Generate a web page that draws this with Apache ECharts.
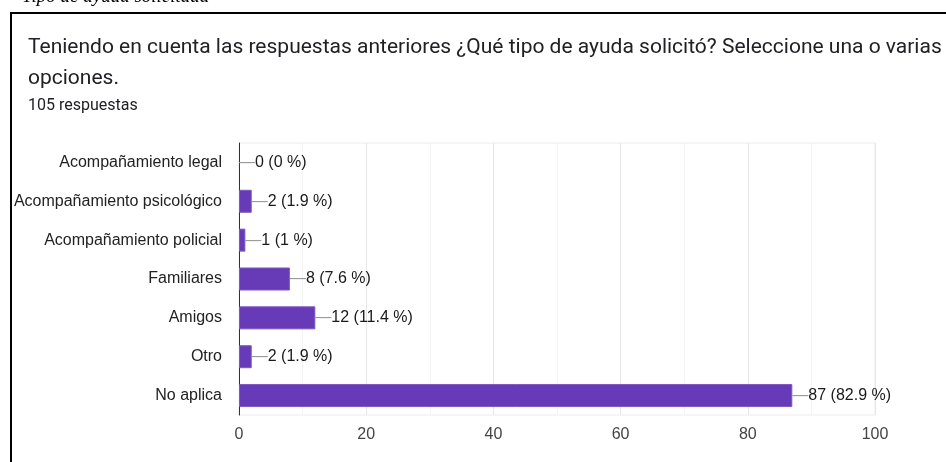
<!DOCTYPE html>
<html>
<head>
<meta charset="utf-8">
<script src="https://cdn.jsdelivr.net/npm/echarts@6/dist/echarts.min.js"></script>
<style>
  html, body { margin: 0; padding: 0; background: #fff; }
  #chart { width: 946px; height: 462px; }
</style>
</head>
<body>
<div id="chart"></div>
<script>
// datos
var categorias = ['Acompañamiento legal', 'Acompañamiento psicológico', 'Acompañamiento policial', 'Familiares', 'Amigos', 'Otro', 'No aplica']
var respuestas = [0, 2, 1, 8, 12, 2, 87]
var porcentajes = ['0', '1.9', '1', '7.6', '11.4', '1.9', '82.9']
var ticksX = [0, 20, 40, 60, 80, 100]

var fuente = '"Liberation Sans", Arial, sans-serif'
var chart = echarts.init(document.getElementById('chart'))

chart.setOption({
  animation: false,
  graphic: [
    // texto del documento cortado arriba
    {
      type: 'text', left: 22, top: -13,
      style: { text: 'Tipo de ayuda solicitada', font: 'italic 19px "Liberation Serif", serif', fill: '#000' }
    },
    // marco
    {
      type: 'rect', shape: { x: 11, y: 13, width: 1000, height: 500 },
      style: { fill: 'none', stroke: '#000', lineWidth: 2 }
    },
    {
      type: 'text', left: 28, top: 37,
      style: { text: 'Teniendo en cuenta las respuestas anteriores ¿Qué tipo de ayuda solicitó? Seleccione una o varias', font: '21px Roboto, sans-serif', fill: '#202124' }
    },
    {
      type: 'text', left: 28, top: 68,
      style: { text: 'opciones.', font: '21px Roboto, sans-serif', fill: '#202124' }
    },
    {
      type: 'text', left: 28, top: 98,
      style: { text: '105 respuestas', font: '16px Roboto, sans-serif', fill: '#202124' }
    }
  ],
  grid: {
    left: 239,
    right: 71,
    top: 143,
    bottom: 47,
    show: true,
    borderColor: '#ececec',
    borderWidth: 1
  },
  xAxis: {
    type: 'value',
    min: 0,
    max: 100,
    interval: 20,
    axisLine: { show: false },
    axisTick: { show: false },
    axisLabel: {
      color: '#444',
      fontSize: 16,
      fontFamily: fuente,
      margin: 12,
      formatter: function (v) { return ticksX.indexOf(v) >= 0 ? String(v) : '' }
    },
    splitLine: { lineStyle: { color: '#e6e6e6' } },
    minorTick: { show: false, splitNumber: 2 },
    minorSplitLine: { show: true, lineStyle: { color: '#f3f3f3' } }
  },
  yAxis: {
    type: 'category',
    data: categorias,
    inverse: true,
    axisLine: { lineStyle: { color: '#333', width: 1 } },
    axisTick: { show: false },
    axisLabel: {
      color: '#222',
      fontSize: 16,
      fontFamily: fuente,
      margin: 17
    }
  },
  series: [{
    type: 'bar',
    // la barra en cero no lleva borde
    data: respuestas.map(function (v) {
      return v === 0 ? { value: v, itemStyle: { borderWidth: 0 } } : v
    }),
    barWidth: 23,
    itemStyle: { color: '#673ab7', borderColor: '#7e57c2', borderWidth: 1 },
    label: {
      show: true,
      position: 'right',
      distance: 0,
      formatter: function (p) {
        return '{l|—}{t|' + p.value + ' (' + porcentajes[p.dataIndex] + ' %)}'
      },
      rich: {
        l: { color: '#999', fontSize: 16, fontFamily: fuente },
        t: { color: '#1a1a1a', fontSize: 16, fontFamily: fuente }
      }
    }
  }]
})
</script>
</body>
</html>
